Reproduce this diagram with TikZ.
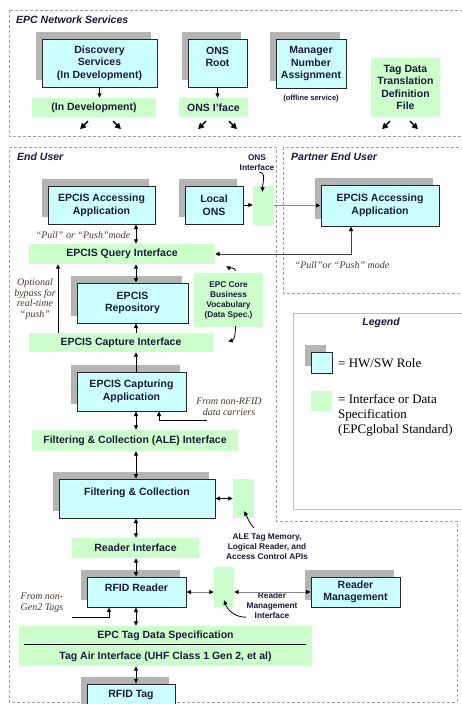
\documentclass[tikz,border=0pt]{standalone}
\usepackage{fontspec}
\setmainfont{Liberation Serif}
\setsansfont{Liberation Sans}
\usetikzlibrary{arrows.meta,shadows,calc}
\definecolor{rolefill}{HTML}{CCFFFF}
\definecolor{ifill}{HTML}{CCFFCC}
\definecolor{shadowgray}{HTML}{B4B4B4}
\definecolor{dashgray}{HTML}{A0A0A0}
\definecolor{txt}{HTML}{1A1A3A}
\definecolor{ital}{HTML}{4A3A2E}
\definecolor{linkgray}{HTML}{8A8A8A}
\definecolor{leggray}{HTML}{C0C0C0}
\newcommand\dgBoxFont{\sffamily\bfseries\fontsize{10.5}{12.6}\selectfont}
\newcommand\dgSmallFont{\sffamily\bfseries\fontsize{8.3}{10}\selectfont}
\newcommand\dgTinyFont{\sffamily\bfseries\fontsize{7.5}{9}\selectfont}
\newcommand\dgNoteFont{\rmfamily\itshape\fontsize{10}{10.7}\selectfont}
\newcommand\dgTitleFont{\sffamily\bfseries\itshape\fontsize{10.5}{12}\selectfont}
\newcommand\dgLegFont{\rmfamily\fontsize{13}{15}\selectfont}
\tikzset{
  role/.style={draw=black!85, line width=1pt, fill=rolefill, text=txt, font=\dgBoxFont,
    align=center, inner sep=0pt,
    general shadow={fill=shadowgray, shadow xshift=-6pt, shadow yshift=7pt}},
  iface/.style={fill=ifill, text=txt, font=\dgBoxFont, align=center, inner sep=0pt},
  smalllbl/.style={text=txt, font=\dgSmallFont, align=center, inner sep=1pt},
  notelbl/.style={text=ital, font=\dgNoteFont, align=center, inner sep=0pt},
  titlelbl/.style={text=txt, font=\dgTitleFont, inner sep=0pt},
  region/.style={draw=dashgray, line width=0.8pt, dash pattern=on 3pt off 2pt},
  conn/.style={line width=0.8pt, -{Triangle[length=4.5pt,width=4pt,color=black]}},
  dconn/.style={line width=0.8pt, {Triangle[length=4.5pt,width=4pt,color=black]}-{Triangle[length=4.5pt,width=4pt,color=black]}},
  netarr/.style={line width=1.4pt, -{Triangle[length=6pt,width=6pt]}}
}
\begin{document}
\begin{tikzpicture}[x=1pt,y=-1pt]
\useasboundingbox (0,0) rectangle (462,704);
\clip (0,0) rectangle (462,704);
\fill[white] (0,0) rectangle (462,704);

% regions
\draw[region] (9,10) rectangle (475,136);
\draw[region] (9,147) -- (276,147) -- (276,521) -- (457,521) -- (457,702) -- (9,702) -- cycle;
\draw[region] (283,147) rectangle (475,293);
\draw[draw=leggray, line width=1pt] (293,313) rectangle (475,509);

\node[titlelbl, anchor=west] (tnet) at (16,20) {EPC Network Services};
\node[titlelbl, anchor=west] (teu) at (17,157) {End User};
\node[titlelbl, anchor=west] (tpeu) at (291,157) {Partner End User};
\node[titlelbl] (tleg) at (381,323) {Legend};

% network services
\node[role, minimum width=115, minimum height=48] (disc) at (99.5,63) {Discovery\\Services\\(In Development)};
\node[iface, minimum width=124, minimum height=19] (discI) at (94,107.5) {(In Development)};
\node[role, minimum width=59, minimum height=48] (onsroot) at (217.5,63) {ONS\\Root\\~};
\node[iface, minimum width=69, minimum height=19] (onsI) at (213.5,107.5) {ONS I'face};
\node[role, minimum width=70, minimum height=49] (mgr) at (311,63.5) {Manager\\Number\\Assignment};
\node[smalllbl, font=\dgTinyFont] (offl) at (311,99) {(offline service)};
\node[iface, minimum width=69, minimum height=59] (tdt) at (405.5,87.5) {Tag Data\\Translation\\Definition\\File};

\draw[conn] (disc.south) -- (disc.south |- discI.north);
\draw[conn] (onsroot.south) -- (onsroot.south |- onsI.north);
\draw[netarr] ([xshift=-6pt,yshift=-4pt]discI.south) -- ++(-8,8);
\draw[netarr] ([xshift=19pt,yshift=-4pt]discI.south) -- ++(8,8);
\draw[netarr] ([xshift=-7.5pt,yshift=-4pt]onsI.south) -- ++(-8,8);
\draw[netarr] ([xshift=15.5pt,yshift=-4pt]onsI.south) -- ++(8,8);
\draw[netarr] ([xshift=-15.5pt,yshift=-4pt]tdt.south) -- ++(-8,8);
\draw[netarr] ([xshift=4.5pt,yshift=-4pt]tdt.south) -- ++(8,8);

% end user
\coordinate (spine) at (136,0);
\coordinate (bypassx) at (58,0);
\node[role, minimum width=107, minimum height=38] (ea) at (101.5,205) {EPCIS Accessing\\Application};
\node[role, minimum width=58, minimum height=38] (lons) at (214,205) {Local\\ONS};
\node[iface, minimum width=21, minimum height=39] (onsif) at (263.5,205.5) {};
\node[smalllbl] (onsl) at (257,163) {ONS\\Interface};
\node[role, minimum width=118, minimum height=41] (pea) at (380,205.5) {EPCIS Accessing\\Application};
\node[iface, minimum width=186, minimum height=20] (qi) at (122,254) {EPCIS Query Interface};
\node[role, minimum width=111, minimum height=40] (repo) at (132.5,303) {EPCIS\\Repository};
\node[iface, smalllbl, inner sep=0pt, minimum width=69, minimum height=54] (vocab) at (228.5,300) {EPC Core\\Business\\Vocabulary\\(Data Spec.)};
\node[iface, minimum width=184, minimum height=19] (ci) at (121,342.5) {EPCIS Capture Interface};
\node[role, minimum width=109, minimum height=39] (capapp) at (131.5,391.5) {EPCIS Capturing\\Application};
\node[iface, minimum width=206, minimum height=21] (ale) at (135,440.5) {Filtering \& Collection (ALE) Interface};
\node[role, minimum width=156, minimum height=39] (fc) at (137,498.5) {Filtering \& Collection\\[1pt]~};
\node[iface, minimum width=21, minimum height=39] (aleapi) at (243.5,498.5) {};
\node[smalllbl] (alelbl) at (267,547) {ALE Tag Memory,\\Logical Reader, and\\Access Control APIs};
\node[iface, minimum width=127, minimum height=20] (ri) at (135.5,548) {Reader Interface};
\node[role, minimum width=99, minimum height=30] (reader) at (136.5,592) {RFID Reader\\[-3pt]~};
\node[iface, minimum width=20, minimum height=40] (rmi) at (224,587) {};
\node[smalllbl] (rmilbl) at (272,606) {Reader\\Management\\Interface};
\node[role, minimum width=89, minimum height=30] (rm) at (355.5,592) {Reader\\Management};
\node[iface, minimum width=293, minimum height=40] (tds) at (165.5,646) {EPC Tag Data Specification\\[8.4pt]Tag Air Interface (UHF Class 1 Gen 2, et al)};
\node[role, minimum width=88, minimum height=30] (tag) at (131,699) {RFID Tag\\[-3pt]~};
\draw[line width=0.8pt] ([xshift=5pt,yshift=2pt]tds.west) -- ([xshift=-6pt,yshift=2pt]tds.east);

% notes
\node[notelbl] (pp1) at (83,235) {``Pull'' or ``Push''mode};
\node[notelbl] (pp2) at (342,265) {``Pull''or ``Push'' mode};
\node[notelbl] (byp) at (35,299) {Optional\\bypass for\\real-time\\``push''};
\node[notelbl] (nrfid) at (229,406.5) {From non-RFID\\data carriers};
\node[notelbl, align=left] (ng2) at (42,603) {From non-\\Gen2 Tags};
\coordinate (nrfidend) at (207,420);
\coordinate (ng2end) at (72,617);

% connectors
\draw[dconn] (ea.south -| spine) -- (qi.north -| spine);
\draw[dconn] (qi.south -| spine) -- (repo.north -| spine);
\draw[conn] (ci.north -| spine) -- (repo.south -| spine);
\draw[conn] (capapp.north -| spine) -- (ci.south -| spine);
\draw[dconn] (capapp.south -| spine) -- (ale.north -| spine);
\draw[dconn] (ale.south -| spine) -- (fc.north -| spine);
\draw[dconn] (fc.south -| spine) -- (ri.north -| spine);
\draw[dconn] (ri.south -| spine) -- (reader.north -| spine);
\draw[dconn] (reader.south -| spine) -- (tds.north -| spine);
\draw[dconn] (tds.south -| spine) -- (tag.north -| spine);
\draw[conn] (ci.north -| bypassx) -- (qi.south -| bypassx);
\draw[conn] (lons.east) -- (lons.east -| onsif.west);
\draw[conn, draw=linkgray] (onsif.east) -- (onsif.east -| pea.west);
\draw[dconn, draw=black!75] (qi.east) -| ([xshift=-29pt]pea.south);
\draw[conn] (nrfidend) -| ([xshift=27.5pt]capapp.south);
\draw[dconn] (fc.east |- aleapi.west) -- (aleapi.west);
\draw[dconn, draw=linkgray] (reader.east) -- (reader.east -| rmi.west);
\draw[dconn, draw=linkgray] (rmi.east |- rm.west) -- (rm.west);
\draw[conn] (ng2end) -| ([xshift=-27.5pt]reader.south);

% curved pointers
\draw[conn] ([xshift=2pt]onsl.south) to[out=0,in=90] ([xshift=-1pt,yshift=-6pt]onsif.north);
\draw[conn] ([xshift=7pt,yshift=2pt]vocab.north) to[out=100,in=-30] ([xshift=11pt,yshift=-2pt]qi.south east);
\draw[conn] ([xshift=7pt,yshift=1pt]vocab.south) to[out=-90,in=15] ([xshift=15pt,yshift=1pt]ci.east);
\draw[conn] ([xshift=-13pt,yshift=5pt]alelbl.north) to[out=135,in=-60] ([xshift=0.5pt,yshift=7pt]aleapi.south);
\draw[conn] ([xshift=22pt,yshift=-10pt]rmi.south) to[out=180,in=-70] ([yshift=7pt]rmi.south);

% legend
\node[role, minimum width=21, minimum height=21] (legrole) at (321.5,362.5) {};
\node[iface, minimum width=21, minimum height=20] (legif) at (321.5,401) {};
\node[font=\dgLegFont, anchor=west, inner sep=0pt] (legroletxt) at (338,363) {= HW/SW Role};
\node[font=\dgLegFont, anchor=north west, align=left, inner sep=0pt] (legiftxt) at (338,394) {= Interface or Data\\Specification\\(EPCglobal Standard)};
\end{tikzpicture}
\end{document}
